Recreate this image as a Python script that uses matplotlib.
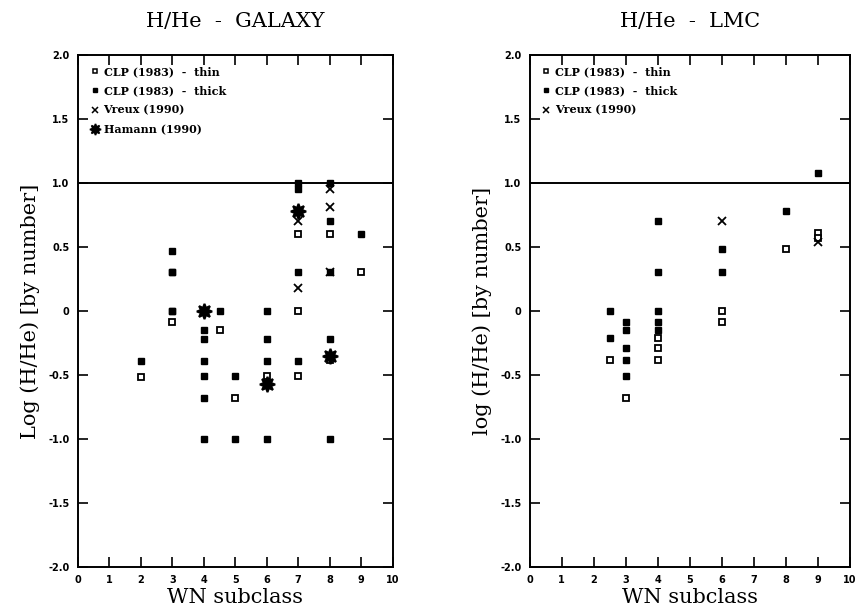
import numpy as np
import matplotlib
matplotlib.use("Agg")
import matplotlib.pyplot as plt
from matplotlib.lines import Line2D

# ---- Galaxy (left panel) ----
gal_thin_x = [2, 3, 4.5, 5, 6, 7, 7, 7, 8, 8, 9]
gal_thin_y = [-0.52, -0.09, -0.15, -0.68, -0.51, 0.60, 0.0, -0.51, 0.60, -0.38, 0.30]
gal_thick_x = [2, 3, 3, 3, 3, 3, 4, 4, 4, 4, 4, 4, 4.5, 5, 5, 6, 6, 6, 6,
               7, 7, 7, 7, 8, 8, 8, 8, 8, 9]
gal_thick_y = [-0.39, 0.47, 0.30, 0.30, 0.0, 0.0, -0.15, -0.22, -0.39, -0.51, -0.68, -1.0, 0.0,
               -0.51, -1.0, 0.0, -0.22, -0.39, -1.0,
               1.0, 0.95, 0.30, -0.39, 1.0, 0.70, 0.30, -0.22, -1.0, 0.60]
gal_vreux_x = [7, 7, 8, 8, 8]
gal_vreux_y = [0.70, 0.18, 0.95, 0.81, 0.30]
gal_hamann_x = [4, 6, 7, 8]
gal_hamann_y = [0.0, -0.57, 0.78, -0.35]

# ---- LMC (right panel) ----
lmc_thin_x = [2.5, 3, 4, 4, 4, 6, 6, 8, 9, 9]
lmc_thin_y = [-0.38, -0.68, -0.21, -0.29, -0.38, 0.0, -0.09, 0.48, 0.61, 0.57]
lmc_thick_x = [2.5, 2.5, 3, 3, 3, 3, 3, 4, 4, 4, 4, 4, 6, 6, 8, 9]
lmc_thick_y = [0.0, -0.21, -0.09, -0.15, -0.29, -0.38, -0.51, 0.70, 0.30, 0.0, -0.09, -0.15,
               0.48, 0.30, 0.78, 1.08]
lmc_vreux_x = [6, 9]
lmc_vreux_y = [0.70, 0.54]

yticks = [2.0, 1.5, 1.0, 0.5, 0, -0.5, -1.0, -1.5, -2.0]
ytick_labels = ["2.0", "1.5", "1.0", "0.5", "0", "-0.5", "-1.0", "-1.5", "-2.0"]
xticks = list(range(11))

star = (8, 1, 0)
thin_kw = dict(marker="s", ms=4.2, mfc="white", mec="black", mew=1.3, ls="none")
thick_kw = dict(marker="s", ms=4.5, mfc="black", mec="black", ls="none")
vreux_kw = dict(marker="x", ms=5.5, mec="black", mew=1.3, ls="none")
hamann_kw = dict(marker=star, ms=11, mfc="black", mec="black", mew=1.5, ls="none")

fig = plt.figure(figsize=(8.57, 6.15), dpi=100)
ax1 = fig.add_axes([0.091, 0.078, 0.367, 0.833])
ax2 = fig.add_axes([0.618, 0.078, 0.374, 0.833])


def style(ax, title, ylabel):
    ax.set_xlim(0, 10)
    ax.set_ylim(-2, 2)
    ax.axhline(1.0, color="black", lw=1.4)
    ax.set_xticks(xticks)
    ax.set_xticklabels([str(t) for t in xticks], fontsize=7, fontweight="bold")
    ax.set_yticks(yticks)
    ax.set_yticklabels(ytick_labels, fontsize=7, fontweight="bold")
    ax.tick_params(direction="in", length=7, width=1.2, top=True, right=True, pad=6)
    for s in ax.spines.values():
        s.set_linewidth(1.4)
    ax.set_title(title, fontsize=15, family="DejaVu Serif", pad=20)
    ax.set_ylabel(ylabel, fontsize=15, family="DejaVu Serif", labelpad=6)
    ax.set_xlabel("WN subclass", fontsize=15, family="DejaVu Serif", labelpad=2)


ax1.plot(gal_thin_x, gal_thin_y, **thin_kw)
ax1.plot(gal_thick_x, gal_thick_y, **thick_kw)
ax1.plot(gal_vreux_x, gal_vreux_y, **vreux_kw)
ax1.plot(gal_hamann_x, gal_hamann_y, **hamann_kw)
style(ax1, "H/He  -  GALAXY", "Log (H/He) [by number]")

ax2.plot(lmc_thin_x, lmc_thin_y, **thin_kw)
ax2.plot(lmc_thick_x, lmc_thick_y, **thick_kw)
ax2.plot(lmc_vreux_x, lmc_vreux_y, **vreux_kw)
style(ax2, "H/He  -  LMC", "log (H/He) [by number]")

leg_font = dict(family="DejaVu Serif", weight="bold", size=8)
h_thin = Line2D([], [], marker="s", ms=3.5, mfc="white", mec="black", mew=1.1, ls="none")
h_thick = Line2D([], [], marker="s", ms=3.5, mfc="black", mec="black", ls="none")
h_vreux = Line2D([], [], marker="x", ms=4, mec="black", mew=1.1, ls="none")
h_hamann = Line2D([], [], marker=star, ms=8, mfc="black", mec="black", mew=1.2, ls="none")

ax1.legend([h_thin, h_thick, h_vreux, h_hamann],
           ["CLP (1983)  -  thin", "CLP (1983)  -  thick", "Vreux (1990)", "Hamann (1990)"],
           loc="upper left", frameon=False, prop=leg_font, handletextpad=0.3,
           labelspacing=0.75, borderaxespad=0.6, handlelength=1.0)
ax2.legend([h_thin, h_thick, h_vreux],
           ["CLP (1983)  -  thin", "CLP (1983)  -  thick", "Vreux (1990)"],
           loc="upper left", frameon=False, prop=leg_font, handletextpad=0.3,
           labelspacing=0.75, borderaxespad=0.6, handlelength=1.0)

fig.savefig("out.png", dpi=100)
